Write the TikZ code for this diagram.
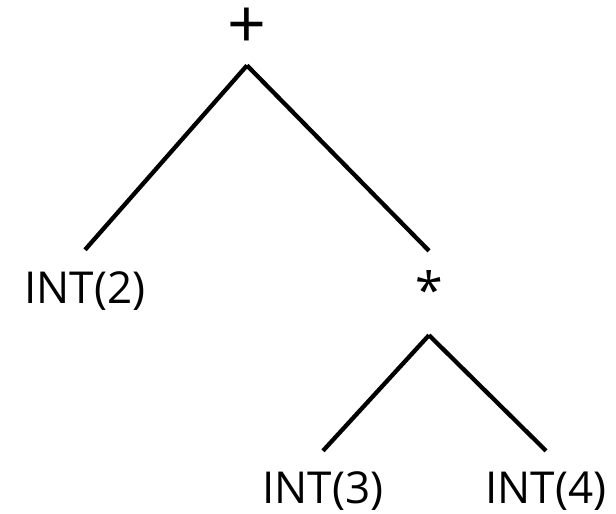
\documentclass[tikz,border=0pt]{standalone}
\usepackage{fontspec}
\setmainfont{Open Sans}

\begin{document}
\begin{tikzpicture}[x=1pt,y=-1pt]
  \useasboundingbox (0,0) rectangle (616,514);
  \begin{scope}[every node/.style={anchor=base,inner sep=0pt,text height=32pt,text depth=10pt,font=\fontsize{44}{53}\selectfont}]
    \node (int2) at (85,303) {INT(2)};
    \node (int3) at (323,503) {INT(3)};
    \node (int4) at (546,503) {INT(4)};
  \end{scope}
  \begin{scope}[every node/.style={anchor=center,inner sep=0pt}]
    \node[font=\fontsize{68}{80}\selectfont] (plus) at (247,28) {+};
    \node[font=\fontsize{50}{60}\selectfont] (times) at (429,290) {*};
  \end{scope}
  \begin{scope}[line width=4.3pt]
    \draw ([yshift=-17pt]plus.south) -- ([yshift=21pt]int2.north);
    \draw ([yshift=-17pt]plus.south) -- ([yshift=20pt]times.north);
    \draw ([yshift=-26pt]times.south) -- ([yshift=20pt]int3.north);
    \draw ([yshift=-26pt]times.south) -- ([yshift=20pt]int4.north);
  \end{scope}
\end{tikzpicture}
\end{document}
